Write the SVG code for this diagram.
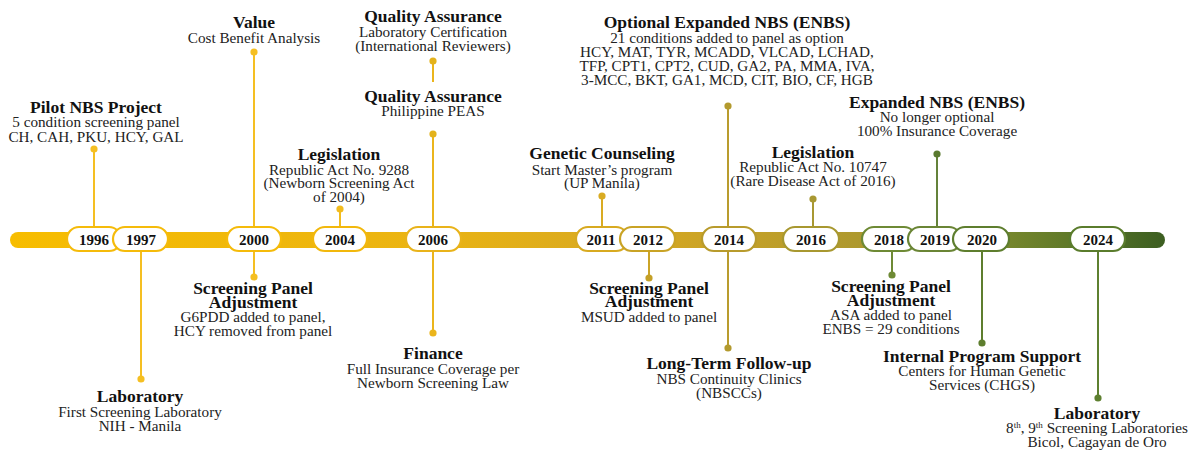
<svg xmlns="http://www.w3.org/2000/svg" width="1197" height="451" viewBox="0 0 1197 451">
<style>
.t{font-family:"Liberation Serif","Times New Roman",serif;font-weight:bold;font-size:17.5px;fill:#111;text-anchor:middle}
.s{font-family:"Liberation Serif","Times New Roman",serif;font-size:15.2px;fill:#222;text-anchor:middle}
.y{font-family:"Liberation Serif","Times New Roman",serif;font-weight:bold;font-size:15px;fill:#111;text-anchor:middle}
.p{fill:#fff;stroke-width:2.2}
.ln{stroke-width:2;fill:none}
</style>
<defs>
<linearGradient id="bar" gradientUnits="userSpaceOnUse" x1="10" y1="0" x2="1165" y2="0">
<stop offset="0" stop-color="#F7BD00"/>
<stop offset="0.35" stop-color="#EBB412"/>
<stop offset="0.55" stop-color="#D6A822"/>
<stop offset="0.68" stop-color="#BA9D2B"/>
<stop offset="0.77" stop-color="#A69630"/>
<stop offset="0.85" stop-color="#7C8A2D"/>
<stop offset="0.93" stop-color="#5A7628"/>
<stop offset="1" stop-color="#3C5E21"/>
</linearGradient>
</defs>
<rect width="1197" height="451" fill="#fff"/>
<rect x="10" y="232" width="1155" height="16" rx="8" fill="url(#bar)"/>

<g id="connectors">
<g class="ln">
<line x1="94" y1="149" x2="94" y2="228" stroke="#F5BF22"/>
<line x1="141" y1="250" x2="141" y2="379" stroke="#F5BF22"/>
<line x1="254" y1="52" x2="254" y2="228" stroke="#F5BF22"/>
<line x1="254" y1="250" x2="254" y2="277" stroke="#F5BF22"/>
<line x1="340" y1="209" x2="340" y2="228" stroke="#F2BC1E"/>
<line x1="433" y1="61" x2="433" y2="82" stroke="#EBB51C"/>
<line x1="433" y1="134" x2="433" y2="228" stroke="#EBB51C"/>
<line x1="433" y1="250" x2="433" y2="333" stroke="#EBB51C"/>
<line x1="602" y1="196" x2="602" y2="228" stroke="#D9AB22"/>
<line x1="649" y1="250" x2="649" y2="278" stroke="#CBA427"/>
<line x1="728" y1="106" x2="728" y2="228" stroke="#B99C2E"/>
<line x1="728" y1="250" x2="728" y2="348" stroke="#B99C2E"/>
<line x1="813" y1="199" x2="813" y2="228" stroke="#A89832"/>
<line x1="892" y1="250" x2="892" y2="275" stroke="#6E8A35"/>
<line x1="937" y1="154" x2="937" y2="228" stroke="#64823A"/>
<line x1="982" y1="250" x2="982" y2="343" stroke="#5E7E2E"/>
<line x1="1098" y1="250" x2="1098" y2="398" stroke="#5E8030"/>
</g>
<g>
<circle cx="94" cy="149" r="3.6" fill="#F5BF22"/>
<circle cx="141" cy="379" r="3.6" fill="#F5BF22"/>
<circle cx="254" cy="52" r="3.6" fill="#F5BF22"/>
<circle cx="254" cy="277" r="3.6" fill="#F5BF22"/>
<circle cx="340" cy="209" r="3.6" fill="#F2BC1E"/>
<circle cx="433" cy="61" r="3.6" fill="#E3B21C"/>
<circle cx="433" cy="134" r="3.6" fill="#E3B21C"/>
<circle cx="433" cy="333" r="3.6" fill="#EBB51C"/>
<circle cx="602" cy="196" r="3.6" fill="#D9AB22"/>
<circle cx="649" cy="278" r="3.6" fill="#C4A027"/>
<circle cx="728" cy="106" r="3.6" fill="#B39A2E"/>
<circle cx="728" cy="348" r="3.6" fill="#B39A2E"/>
<circle cx="813" cy="199" r="3.6" fill="#A89832"/>
<circle cx="892" cy="275" r="3.6" fill="#6E8A35"/>
<circle cx="937" cy="154" r="3.6" fill="#5A7A30"/>
<circle cx="982" cy="343" r="3.6" fill="#5E7E2E"/>
<circle cx="1098" cy="398" r="3.6" fill="#5E8030"/>
</g>
</g>

<g id="y1996"><rect class="p" x="67" y="227" width="54" height="24" rx="12" stroke="#F5BB0A"/><text class="y" x="94" y="245">1996</text></g>
<g id="y1997"><rect class="p" x="113" y="227" width="55" height="24" rx="12" stroke="#F5BB0A"/><text class="y" x="141" y="245">1997</text></g>
<g id="y2000"><rect class="p" x="227" y="227" width="54" height="24" rx="12" stroke="#F5BB0A"/><text class="y" x="254" y="245">2000</text></g>
<g id="y2004"><rect class="p" x="313" y="227" width="54" height="24" rx="12" stroke="#F2B80C"/><text class="y" x="340" y="245">2004</text></g>
<g id="y2006"><rect class="p" x="406" y="227" width="55" height="24" rx="12" stroke="#E9B31A"/><text class="y" x="433" y="245">2006</text></g>
<g id="y2011"><rect class="p" x="576" y="227" width="52" height="24" rx="12" stroke="#D8AA20"/><text class="y" x="601" y="245">2011</text></g>
<g id="y2012"><rect class="p" x="620" y="227" width="55" height="24" rx="12" stroke="#C9A325"/><text class="y" x="648" y="245">2012</text></g>
<g id="y2014"><rect class="p" x="702" y="227" width="54" height="24" rx="12" stroke="#B89B2C"/><text class="y" x="729" y="245">2014</text></g>
<g id="y2016"><rect class="p" x="783" y="227" width="56" height="24" rx="12" stroke="#A89830"/><text class="y" x="811" y="245">2016</text></g>
<g id="y2018"><rect class="p" x="862" y="227" width="54" height="24" rx="12" stroke="#6E8A35"/><text class="y" x="889" y="245">2018</text></g>
<g id="y2019"><rect class="p" x="908" y="227" width="53" height="24" rx="12" stroke="#6A8535"/><text class="y" x="935" y="245">2019</text></g>
<g id="y2020"><rect class="p" x="953" y="227" width="56" height="24" rx="12" stroke="#5E7E2E"/><text class="y" x="982" y="245">2020</text></g>
<g id="y2024"><rect class="p" x="1070" y="227" width="55" height="24" rx="12" stroke="#5A7C2C"/><text class="y" x="1098" y="245">2024</text></g>

<g id="e-pilot"><text class="t" x="96" y="113">Pilot NBS Project</text><text class="s" x="96" y="127">5 condition screening panel</text><text class="s" x="96" y="142">CH, CAH, PKU, HCY, GAL</text></g>
<g id="e-lab1997"><text class="t" x="140" y="402">Laboratory</text><text class="s" x="140" y="417">First Screening Laboratory</text><text class="s" x="140" y="431">NIH - Manila</text></g>
<g id="e-value"><text class="t" x="254" y="28">Value</text><text class="s" x="254" y="43">Cost Benefit Analysis</text></g>
<g id="e-spa2000"><text class="t" x="253" y="294">Screening Panel</text><text class="t" x="253" y="308">Adjustment</text><text class="s" x="253" y="322">G6PDD added to panel,</text><text class="s" x="253" y="336">HCY removed from panel</text></g>
<g id="e-leg2004"><text class="t" x="339" y="160">Legislation</text><text class="s" x="339" y="175">Republic Act No. 9288</text><text class="s" x="339" y="188">(Newborn Screening Act</text><text class="s" x="339" y="202">of 2004)</text></g>
<g id="e-qa1"><text class="t" x="433" y="22">Quality Assurance</text><text class="s" x="433" y="37">Laboratory Certification</text><text class="s" x="433" y="51">(International Reviewers)</text></g>
<g id="e-qa2"><text class="t" x="433" y="102">Quality Assurance</text><text class="s" x="433" y="116">Philippine PEAS</text></g>
<g id="e-fin"><text class="t" x="433" y="359">Finance</text><text class="s" x="433" y="374">Full Insurance Coverage per</text><text class="s" x="433" y="388">Newborn Screening Law</text></g>
<g id="e-gc"><text class="t" x="602" y="159">Genetic Counseling</text><text class="s" x="602" y="175">Start Master’s program</text><text class="s" x="602" y="188">(UP Manila)</text></g>
<g id="e-spa2012"><text class="t" x="649" y="294">Screening Panel</text><text class="t" x="649" y="307">Adjustment</text><text class="s" x="649" y="322">MSUD added to panel</text></g>
<g id="e-oenbs"><text class="t" x="727" y="28">Optional Expanded NBS (ENBS)</text><text class="s" x="727" y="43">21 conditions added to panel as option</text><text class="s" x="727" y="57">HCY, MAT, TYR, MCADD, VLCAD, LCHAD,</text><text class="s" x="727" y="71">TFP, CPT1, CPT2, CUD, GA2, PA, MMA, IVA,</text><text class="s" x="727" y="85">3-MCC, BKT, GA1, MCD, CIT, BIO, CF, HGB</text></g>
<g id="e-ltfu"><text class="t" x="729" y="369">Long-Term Follow-up</text><text class="s" x="729" y="384">NBS Continuity Clinics</text><text class="s" x="729" y="398">(NBSCCs)</text></g>
<g id="e-leg2016"><text class="t" x="813" y="158">Legislation</text><text class="s" x="813" y="172">Republic Act No. 10747</text><text class="s" x="813" y="186">(Rare Disease Act of 2016)</text></g>
<g id="e-spa2018"><text class="t" x="891" y="292">Screening Panel</text><text class="t" x="891" y="306">Adjustment</text><text class="s" x="891" y="320">ASA added to panel</text><text class="s" x="891" y="334">ENBS = 29 conditions</text></g>
<g id="e-enbs"><text class="t" x="937" y="108">Expanded NBS (ENBS)</text><text class="s" x="937" y="122">No longer optional</text><text class="s" x="937" y="136">100% Insurance Coverage</text></g>
<g id="e-ips"><text class="t" x="982" y="362">Internal Program Support</text><text class="s" x="982" y="376">Centers for Human Genetic</text><text class="s" x="982" y="390">Services (CHGS)</text></g>
<g id="e-lab2024"><text class="t" x="1097" y="419">Laboratory</text><text class="s" x="1097" y="433">8<tspan font-size="9" dy="-5">th</tspan><tspan dy="5">, 9</tspan><tspan font-size="9" dy="-5">th</tspan><tspan dy="5"> Screening Laboratories</tspan></text><text class="s" x="1097" y="447">Bicol, Cagayan de Oro</text></g>
</svg>
